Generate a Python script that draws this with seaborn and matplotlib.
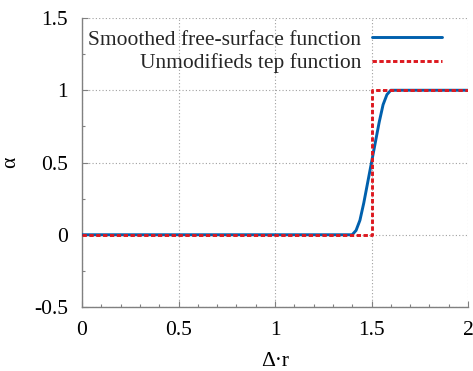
import matplotlib
matplotlib.use("Agg")
import matplotlib.pyplot as plt
import seaborn as sns
import pandas as pd
from matplotlib.ticker import MultipleLocator

# Data
smooth_x = [0.0, 1.40, 1.42, 1.44, 1.46, 1.48, 1.50, 1.52, 1.54, 1.56, 1.58, 1.60, 2.0]
smooth_y = [0.0, 0.0, 0.03, 0.10, 0.22, 0.36, 0.50, 0.64, 0.78, 0.90, 0.97, 1.0, 1.0]
step_x = [0.0, 1.5, 1.5, 2.0]
step_y = [0.0, 0.0, 1.0, 1.0]
label_smooth = "Smoothed free-surface function"
label_step = "Unmodifieds tep function"
x_ticks = [0, 0.5, 1, 1.5, 2]
x_ticklabels = ["0", "0.5", "1", "1.5", "2"]
y_ticks = [-0.5, 0, 0.5, 1, 1.5]
y_ticklabels = ["-0.5", "0", "0.5", "1", "1.5"]

sns.set_theme(style="white")
plt.rcParams["font.family"] = ["Liberation Serif", "DejaVu Serif"]

FS = 15.5

fig = plt.figure(figsize=(4.73, 3.71), dpi=100)
ax = fig.add_axes([82 / 473, 64 / 371, (468 - 82) / 473, (307 - 18) / 371])

df_s = pd.DataFrame({"x": smooth_x, "y": smooth_y})
df_t = pd.DataFrame({"x": step_x, "y": step_y})

sns.lineplot(data=df_s, x="x", y="y", ax=ax, color="#0060ad", linewidth=2.1,
             label=label_smooth, sort=False, estimator=None, zorder=3)
sns.lineplot(data=df_t, x="x", y="y", ax=ax, color="#dd181f", linewidth=2.1,
             linestyle=(0, (1.5, 0.85)), label=label_step, sort=False,
             estimator=None, zorder=4)

ax.set_xlim(0, 2)
ax.set_ylim(-0.5, 1.5)
ax.set_xticks(x_ticks)
ax.set_xticklabels(x_ticklabels)
ax.set_yticks(y_ticks)
ax.set_yticklabels(y_ticklabels)
ax.xaxis.set_minor_locator(MultipleLocator(0.1))
ax.yaxis.set_minor_locator(MultipleLocator(0.25))

ax.grid(True, which="major", color="#a0a0a0", linestyle=(0, (1, 2)), linewidth=0.8)
ax.tick_params(which="major", direction="in", length=4, width=0.8, color="#808080",
               labelsize=FS, pad=10, top=False, right=False, bottom=True, left=True)
ax.tick_params(which="minor", direction="in", length=2.5, width=0.8, color="#808080",
               top=False, right=False, bottom=True, left=True)
for lbl in ax.get_xticklabels() + ax.get_yticklabels():
    lbl.set_color("black")

for side in ["top", "right"]:
    ax.spines[side].set_visible(False)
for side in ["left", "bottom"]:
    ax.spines[side].set_visible(True)
    ax.spines[side].set_color("#808080")
    ax.spines[side].set_linewidth(1.0)

ax.set_xlabel("Δ·r", fontsize=FS, color="black", labelpad=9)
ax.set_ylabel("α", fontsize=FS, color="black", labelpad=10)

leg = ax.legend(loc="upper left", bbox_to_anchor=(-0.014, 1.0), frameon=False,
                markerfirst=False, fontsize=FS, handlelength=3.25,
                handletextpad=0.47, labelspacing=0.15, borderaxespad=0.3,
                borderpad=0.25)

fig.savefig("out.png", dpi=100)
